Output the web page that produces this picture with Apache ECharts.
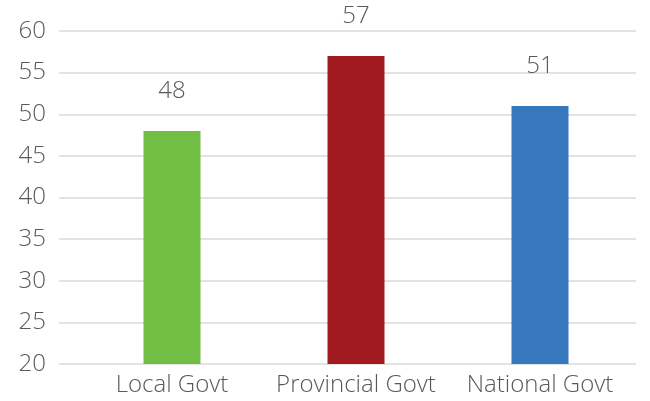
<!DOCTYPE html>
<html>
<head>
<meta charset="utf-8">
<script src="https://cdn.jsdelivr.net/npm/echarts@6/dist/echarts.min.js"></script>
<style>
  html, body { margin: 0; padding: 0; background: #fff; }
  #chart { width: 650px; height: 401px; }
</style>
</head>
<body>
<div id="chart"></div>
<script>
// Survey results by level of government
const categories = ['Local Govt', 'Provincial Govt', 'National Govt'];
const scores = [48, 57, 51];
const barColors = ['#72BE44', '#A11A20', '#3778BC'];
const yTicks = [20, 25, 30, 35, 40, 45, 50, 55, 60];

const FONT = '"Open Sans", "Liberation Sans", sans-serif';
const TEXT = '#595959';
const yMin = yTicks[0];
const yMax = yTicks[yTicks.length - 1];
const yStep = yTicks[1] - yTicks[0];

const chart = echarts.init(document.getElementById('chart'));
chart.setOption({
  backgroundColor: '#fff',
  animation: false,
  grid: [
    // full-width grid carrying the value labels and gridlines
    { left: 59, right: 14, top: 31, bottom: 37 },
    // grid holding the bars
    { left: 80, right: 18, top: 31, bottom: 37 }
  ],
  xAxis: [
    { type: 'value', gridIndex: 0, show: false, min: 0, max: 1 },
    {
      type: 'category', gridIndex: 1, data: categories,
      axisLine: { show: false }, axisTick: { show: false },
      axisLabel: {
        interval: 0, hideOverlap: false,
        color: TEXT, fontFamily: FONT, fontWeight: 300, fontSize: 24, margin: 9
      }
    }
  ],
  yAxis: [
    {
      type: 'value', gridIndex: 0, min: yMin, max: yMax, interval: yStep,
      axisLine: { show: false }, axisTick: { show: false },
      axisLabel: { color: TEXT, fontFamily: FONT, fontWeight: 300, fontSize: 24, margin: 13 },
      splitLine: { lineStyle: { color: '#D9D9D9', width: 1.5 } }
    },
    {
      type: 'value', gridIndex: 1, min: yMin, max: yMax, interval: yStep,
      show: false, splitLine: { show: false }
    }
  ],
  series: [{
    type: 'bar',
    xAxisIndex: 1,
    yAxisIndex: 1,
    barWidth: 57,
    data: scores.map((v, i) => ({ value: v, itemStyle: { color: barColors[i] } })),
    label: {
      show: true, position: 'top', distance: 28,
      color: TEXT, fontFamily: FONT, fontWeight: 300, fontSize: 24
    }
  }]
});
</script>
</body>
</html>
